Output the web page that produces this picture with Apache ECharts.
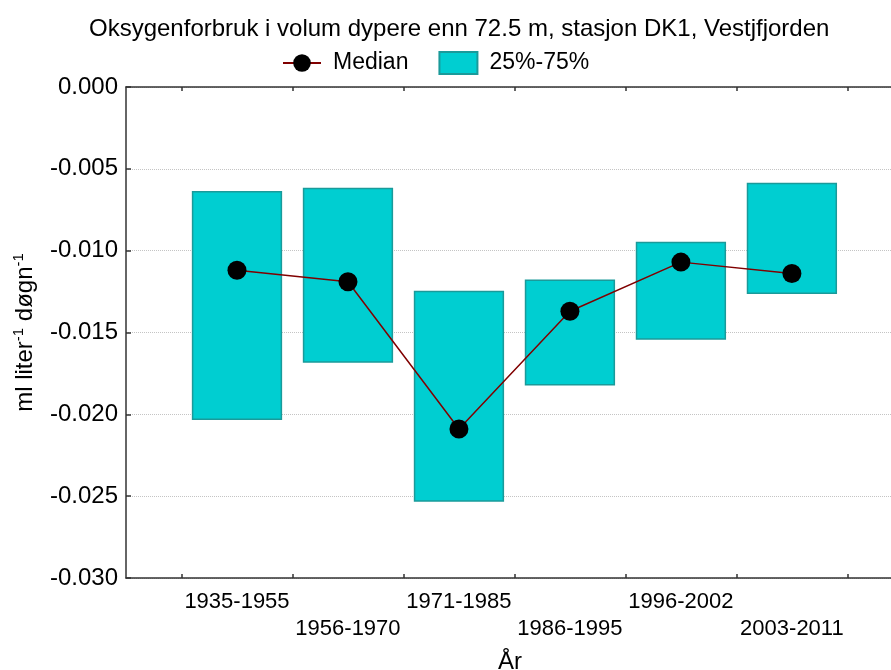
<!DOCTYPE html>
<html>
<head>
<meta charset="utf-8">
<script src="https://cdn.jsdelivr.net/npm/echarts@6/dist/echarts.min.js"></script>
<style>
  html, body { margin: 0; padding: 0; background: #fff; }
  #chart { width: 891px; height: 670px; }
</style>
</head>
<body>
<div id="chart"></div>
<script>
var categories = ['1935-1955', '1956-1970', '1971-1985', '1986-1995', '1996-2002', '2003-2011'];
var median = [-0.0112, -0.0119, -0.0209, -0.0137, -0.0107, -0.0114];
var q75 = [-0.0064, -0.0062, -0.0125, -0.0118, -0.0095, -0.0059];
var q25 = [-0.0203, -0.0168, -0.0253, -0.0182, -0.0154, -0.0126];

var FONT = '"Liberation Sans", Arial, sans-serif';

// category i sits between tick i and tick i+1
var tickPos = [];
for (var t = 0; t <= categories.length; t++) tickPos.push(t);
var centerPos = categories.map(function (c, i) { return i + 0.5; });

var boxData = categories.map(function (c, i) { return [centerPos[i], q75[i], q25[i]]; });
var lineData = categories.map(function (c, i) { return [centerPos[i], median[i]]; });

var myChart = echarts.init(document.getElementById('chart'));

var axisColor = '#333';

var option = {
    animation: false,
    textStyle: { fontFamily: FONT },
    title: {
        text: 'Oksygenforbruk i volum dypere enn 72.5 m, stasjon DK1, Vestjfjorden',
        left: 84,
        top: 12,
        textStyle: { fontFamily: FONT, fontSize: 24, fontWeight: 'normal', color: '#000' }
    },
    legend: {
        top: 46,
        left: 277,
        itemWidth: 38,
        itemHeight: 22,
        itemGap: 30,
        textStyle: { fontFamily: FONT, fontSize: 23, color: '#000', padding: [0, 0, 0, 7] },
        data: [
            { name: 'Median' },
            { name: '25%-75%', icon: 'rect' }
        ]
    },
    grid: { left: 126, top: 87, width: 768, bottom: 92, outerBoundsMode: 'none', containLabel: false },
    xAxis: [{
        type: 'value',
        min: -0.5,
        max: 6.42,
        position: 'bottom',
        name: 'År',
        nameLocation: 'middle',
        nameGap: 72,
        nameTextStyle: { fontFamily: FONT, fontSize: 24, color: '#000' },
        axisLine: { show: true, onZero: false, lineStyle: { color: axisColor, width: 1.5 } },
        axisTick: { show: true, inside: true, length: 4, customValues: tickPos, lineStyle: { color: axisColor, width: 1.5 } },
        axisLabel: {
            customValues: centerPos,
            margin: 10,
            fontFamily: FONT,
            fontSize: 22,
            color: '#000',
            lineHeight: 27,
            formatter: function (v) {
                var i = Math.round(v - 0.5);
                return i % 2 === 0 ? categories[i] : '\n' + categories[i];
            }
        },
        splitLine: { show: false }
    }, {
        type: 'value',
        min: -0.5,
        max: 6.42,
        position: 'top',
        axisLine: { show: true, onZero: false, lineStyle: { color: axisColor, width: 1.5 } },
        axisTick: { show: true, inside: true, length: 4, customValues: tickPos, lineStyle: { color: axisColor, width: 1.5 } },
        axisLabel: { show: false },
        splitLine: { show: false }
    }],
    yAxis: {
        type: 'value',
        min: -0.030,
        max: 0,
        interval: 0.005,
        name: 'ml liter{sup|-1} døgn{sup|-1}',
        nameLocation: 'middle',
        nameRotate: 90,
        nameGap: 86,
        nameTextStyle: {
            fontFamily: FONT, fontSize: 24, color: '#000', lineHeight: 28,
            rich: { sup: { fontFamily: FONT, fontSize: 15, lineHeight: 16, verticalAlign: 'top', color: '#000' } }
        },
        axisLine: { show: true, onZero: false, lineStyle: { color: axisColor, width: 1.5 } },
        axisTick: { show: true, inside: true, length: 5, lineStyle: { color: axisColor, width: 1.5 } },
        axisLabel: {
            margin: 8,
            fontFamily: FONT,
            fontSize: 24,
            color: '#000',
            formatter: function (v) { return Math.abs(v) < 1e-9 ? '0.000' : v.toFixed(3); }
        },
        splitLine: { show: true, lineStyle: { color: '#c4c4c4', type: 'dotted', width: 1 } }
    },
    series: [{
        name: '25%-75%',
        type: 'custom',
        xAxisIndex: 0,
        itemStyle: { color: '#00CED1', borderColor: '#1a9a9a', borderWidth: 1.5 },
        renderItem: function (params, api) {
            var x = api.value(0);
            var top = api.coord([x, api.value(1)]);
            var bot = api.coord([x, api.value(2)]);
            var w = api.size([0.8, 0])[0];
            return {
                type: 'rect',
                shape: { x: top[0] - w / 2, y: top[1], width: w, height: bot[1] - top[1] },
                style: { fill: '#00CED1', stroke: '#1a9a9a', lineWidth: 1.5 }
            };
        },
        encode: { x: 0, y: [1, 2] },
        data: boxData,
        z: 2
    }, {
        name: 'Median',
        type: 'line',
        xAxisIndex: 0,
        data: lineData,
        symbol: 'circle',
        symbolSize: 19,
        itemStyle: { color: '#000' },
        lineStyle: { color: '#800000', width: 1.5 },
        z: 3
    }]
};

myChart.setOption(option);
</script>
</body>
</html>
